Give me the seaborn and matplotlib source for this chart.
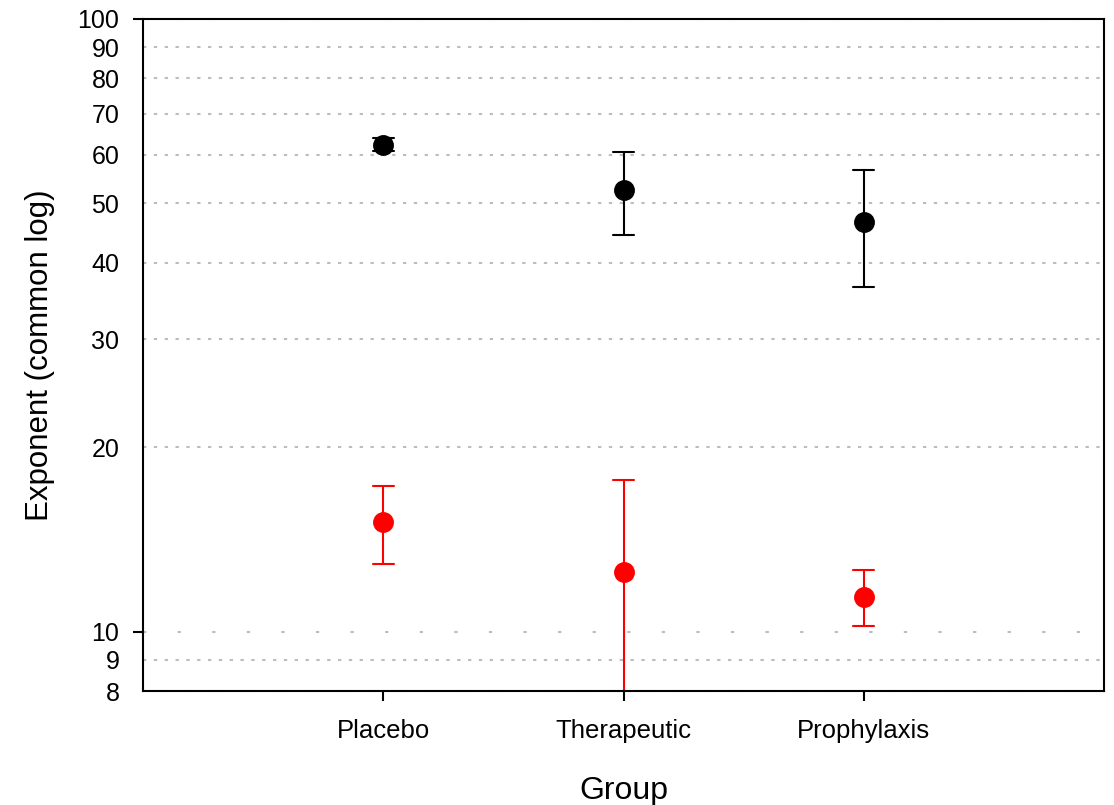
import matplotlib
matplotlib.use("Agg")
import matplotlib.pyplot as plt
import matplotlib.ticker as mticker
import seaborn as sns
import pandas as pd

# ---- data ----
groups = ["Placebo", "Therapeutic", "Prophylaxis"]
black_mean = [62.3, 52.6, 46.7]
black_low = [60.8, 44.4, 36.5]
black_high = [63.9, 60.7, 56.7]
red_mean = [15.1, 12.5, 11.4]
red_low = [12.9, 6.0, 10.2]
red_high = [17.3, 17.7, 12.6]
y_ticks = [8, 9, 10, 20, 30, 40, 50, 60, 70, 80, 90, 100]

def long_form(means, lows, highs):
    rows = []
    for g, m, lo, hi in zip(groups, means, lows, highs):
        for v in (lo, m, hi):
            rows.append({"Group": g, "value": v})
    return pd.DataFrame(rows)

df_black = long_form(black_mean, black_low, black_high)
df_red = long_form(red_mean, red_low, red_high)

sns.set_theme(style="white")
plt.rcParams["font.family"] = ["Liberation Sans", "DejaVu Sans"]
plt.rcParams["text.color"] = "black"
plt.rcParams["axes.labelcolor"] = "black"
plt.rcParams["xtick.color"] = "black"
plt.rcParams["ytick.color"] = "black"

fig = plt.figure(figsize=(11.14, 8.05), dpi=100)
ax = fig.add_axes([143 / 1114, 1 - 691 / 805, (1104 - 143) / 1114, (691 - 19) / 805])
ax.set_yscale("log")

common = dict(x="Group", y="value", order=groups, estimator="median",
              errorbar=("pi", 100), linestyle="none", capsize=0.088,
              markersize=13, err_kws={"linewidth": 1.5}, ax=ax)
sns.pointplot(data=df_black, color="black", **common)
sns.pointplot(data=df_red, color="#ff0000", **common)

ax.set_xlim(-1, 3)
ax.set_ylim(8, 100)

# y ticks: majors (10, 100) with marks; minors labelled without marks
ax.yaxis.set_major_locator(mticker.FixedLocator([10, 100]))
ax.yaxis.set_minor_locator(mticker.FixedLocator([t for t in y_ticks if t not in (10, 100)]))
fmt = mticker.FuncFormatter(lambda v, p: f"{v:g}")
ax.yaxis.set_major_formatter(fmt)
ax.yaxis.set_minor_formatter(fmt)
ax.tick_params(axis="y", which="major", direction="out", length=7, width=1.5,
               color="black", labelcolor="black", labelsize=18, left=True, pad=10)
ax.tick_params(axis="y", which="minor", length=0, labelsize=18, labelcolor="black",
               left=True, pad=17)
ax.tick_params(axis="x", direction="out", length=7, width=1.5, color="black",
               labelcolor="black", labelsize=18.5, bottom=True, pad=13)

# grid lines
ax.grid(False)
ax.grid(True, axis="y", which="minor", color="#bdbdbd", linewidth=1.5,
        linestyle=(0, (1.6, 3.6)))
ax.grid(True, axis="y", which="major", color="#bdbdbd", linewidth=1.5,
        linestyle=(0, (1.6, 15)))
ax.set_axisbelow(True)

for side in ["left", "bottom", "top", "right"]:
    ax.spines[side].set_visible(True)
    ax.spines[side].set_color("black")
    ax.spines[side].set_linewidth(1.5)

ax.set_xlabel("Group", fontsize=23, labelpad=24, color="black")
ax.set_ylabel("Exponent (common log)", fontsize=22.5, labelpad=16, color="black")

fig.savefig("out.png", dpi=100, facecolor="white")
